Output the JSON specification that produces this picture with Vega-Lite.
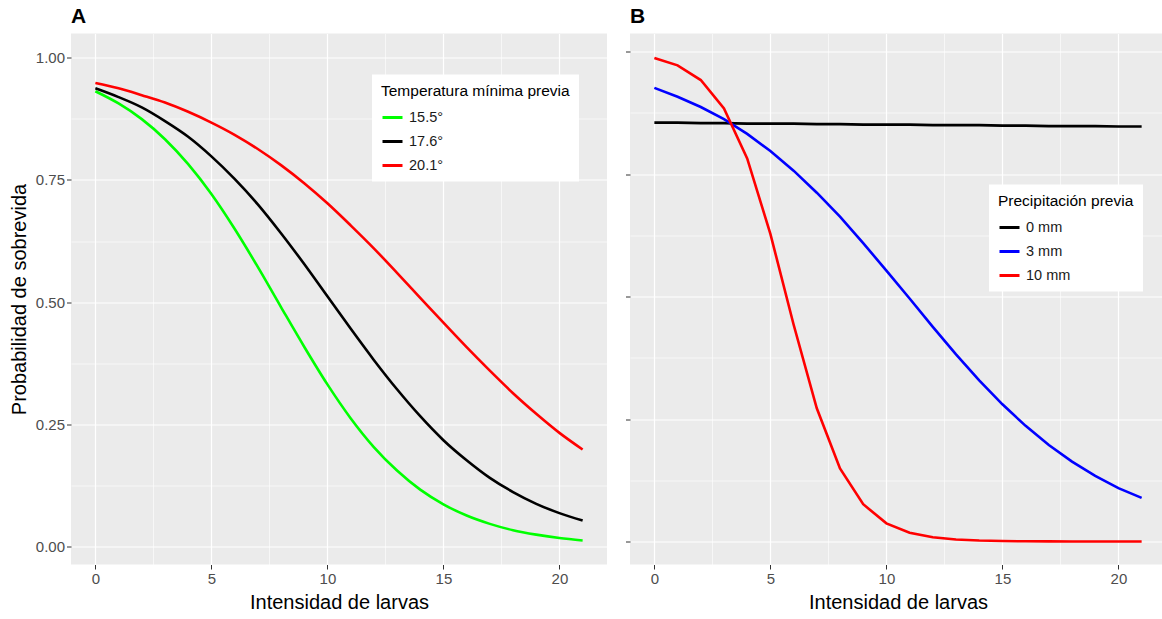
{
  "$schema": "https://vega.github.io/schema/vega-lite/v6.json",
  "background": "white",
  "padding": {"left": 9, "top": 5.5, "right": 0, "bottom": 5},
  "config": {
    "font": "Liberation Sans",
    "view": {"fill": "#EBEBEB", "stroke": null},
    "axis": {
      "labelFont": "Liberation Sans",
      "labelFontSize": 15,
      "labelColor": "#4D4D4D",
      "tickColor": "#333333",
      "tickSize": 4.5,
      "tickWidth": 1,
      "domain": false,
      "gridColor": "white",
      "gridWidth": 1.2,
      "titleFont": "Liberation Sans",
      "titleFontSize": 20,
      "titleFontWeight": "normal",
      "titleColor": "black",
      "labelPadding": 2,
      "titlePadding": 6
    },
    "legend": {
      "fillColor": "white",
      "padding": 9,
      "titleFont": "Liberation Sans",
      "titleFontSize": 15.5,
      "titleFontWeight": "normal",
      "titleColor": "black",
      "titleLimit": 400,
      "labelLimit": 300,
      "labelFont": "Liberation Sans",
      "labelFontSize": 14.5,
      "labelColor": "#1A1A1A",
      "symbolType": "stroke",
      "symbolStrokeWidth": 3,
      "symbolSize": 400,
      "rowPadding": 6,
      "titlePadding": 7,
      "labelOffset": 5
    },
    "title": {"font": "Liberation Sans", "fontSize": 21, "fontWeight": "bold", "color": "black", "anchor": "start", "frame": "group"}
  },
  "datasets": {
    "temp": [
      {"larvas":0,"prob":0.931,"grupo":"15.5°"},{"larvas":1,"prob":0.906,"grupo":"15.5°"},{"larvas":2,"prob":0.874,"grupo":"15.5°"},{"larvas":3,"prob":0.833,"grupo":"15.5°"},{"larvas":4,"prob":0.782,"grupo":"15.5°"},{"larvas":5,"prob":0.721,"grupo":"15.5°"},{"larvas":6,"prob":0.650,"grupo":"15.5°"},{"larvas":7,"prob":0.572,"grupo":"15.5°"},{"larvas":8,"prob":0.490,"grupo":"15.5°"},{"larvas":9,"prob":0.409,"grupo":"15.5°"},{"larvas":10,"prob":0.332,"grupo":"15.5°"},{"larvas":11,"prob":0.263,"grupo":"15.5°"},{"larvas":12,"prob":0.204,"grupo":"15.5°"},{"larvas":13,"prob":0.156,"grupo":"15.5°"},{"larvas":14,"prob":0.117,"grupo":"15.5°"},{"larvas":15,"prob":0.087,"grupo":"15.5°"},{"larvas":16,"prob":0.064,"grupo":"15.5°"},{"larvas":17,"prob":0.047,"grupo":"15.5°"},{"larvas":18,"prob":0.034,"grupo":"15.5°"},{"larvas":19,"prob":0.025,"grupo":"15.5°"},{"larvas":20,"prob":0.018,"grupo":"15.5°"},{"larvas":21,"prob":0.013,"grupo":"15.5°"},
      {"larvas":0,"prob":0.937,"grupo":"17.6°"},{"larvas":1,"prob":0.919,"grupo":"17.6°"},{"larvas":2,"prob":0.898,"grupo":"17.6°"},{"larvas":3,"prob":0.870,"grupo":"17.6°"},{"larvas":4,"prob":0.838,"grupo":"17.6°"},{"larvas":5,"prob":0.798,"grupo":"17.6°"},{"larvas":6,"prob":0.752,"grupo":"17.6°"},{"larvas":7,"prob":0.700,"grupo":"17.6°"},{"larvas":8,"prob":0.641,"grupo":"17.6°"},{"larvas":9,"prob":0.578,"grupo":"17.6°"},{"larvas":10,"prob":0.512,"grupo":"17.6°"},{"larvas":11,"prob":0.446,"grupo":"17.6°"},{"larvas":12,"prob":0.382,"grupo":"17.6°"},{"larvas":13,"prob":0.322,"grupo":"17.6°"},{"larvas":14,"prob":0.267,"grupo":"17.6°"},{"larvas":15,"prob":0.218,"grupo":"17.6°"},{"larvas":16,"prob":0.177,"grupo":"17.6°"},{"larvas":17,"prob":0.141,"grupo":"17.6°"},{"larvas":18,"prob":0.112,"grupo":"17.6°"},{"larvas":19,"prob":0.088,"grupo":"17.6°"},{"larvas":20,"prob":0.069,"grupo":"17.6°"},{"larvas":21,"prob":0.054,"grupo":"17.6°"},
      {"larvas":0,"prob":0.948,"grupo":"20.1°"},{"larvas":1,"prob":0.937,"grupo":"20.1°"},{"larvas":2,"prob":0.923,"grupo":"20.1°"},{"larvas":3,"prob":0.908,"grupo":"20.1°"},{"larvas":4,"prob":0.889,"grupo":"20.1°"},{"larvas":5,"prob":0.867,"grupo":"20.1°"},{"larvas":6,"prob":0.842,"grupo":"20.1°"},{"larvas":7,"prob":0.813,"grupo":"20.1°"},{"larvas":8,"prob":0.780,"grupo":"20.1°"},{"larvas":9,"prob":0.743,"grupo":"20.1°"},{"larvas":10,"prob":0.702,"grupo":"20.1°"},{"larvas":11,"prob":0.657,"grupo":"20.1°"},{"larvas":12,"prob":0.610,"grupo":"20.1°"},{"larvas":13,"prob":0.560,"grupo":"20.1°"},{"larvas":14,"prob":0.509,"grupo":"20.1°"},{"larvas":15,"prob":0.458,"grupo":"20.1°"},{"larvas":16,"prob":0.408,"grupo":"20.1°"},{"larvas":17,"prob":0.360,"grupo":"20.1°"},{"larvas":18,"prob":0.314,"grupo":"20.1°"},{"larvas":19,"prob":0.272,"grupo":"20.1°"},{"larvas":20,"prob":0.233,"grupo":"20.1°"},{"larvas":21,"prob":0.199,"grupo":"20.1°"}
    ],
    "precip": [
      {"larvas":0,"prob":0.855,"grupo":"0 mm"},{"larvas":1,"prob":0.855,"grupo":"0 mm"},{"larvas":2,"prob":0.854,"grupo":"0 mm"},{"larvas":3,"prob":0.854,"grupo":"0 mm"},{"larvas":4,"prob":0.853,"grupo":"0 mm"},{"larvas":5,"prob":0.853,"grupo":"0 mm"},{"larvas":6,"prob":0.853,"grupo":"0 mm"},{"larvas":7,"prob":0.852,"grupo":"0 mm"},{"larvas":8,"prob":0.852,"grupo":"0 mm"},{"larvas":9,"prob":0.851,"grupo":"0 mm"},{"larvas":10,"prob":0.851,"grupo":"0 mm"},{"larvas":11,"prob":0.851,"grupo":"0 mm"},{"larvas":12,"prob":0.850,"grupo":"0 mm"},{"larvas":13,"prob":0.850,"grupo":"0 mm"},{"larvas":14,"prob":0.850,"grupo":"0 mm"},{"larvas":15,"prob":0.849,"grupo":"0 mm"},{"larvas":16,"prob":0.849,"grupo":"0 mm"},{"larvas":17,"prob":0.848,"grupo":"0 mm"},{"larvas":18,"prob":0.848,"grupo":"0 mm"},{"larvas":19,"prob":0.848,"grupo":"0 mm"},{"larvas":20,"prob":0.847,"grupo":"0 mm"},{"larvas":21,"prob":0.847,"grupo":"0 mm"},
      {"larvas":0,"prob":0.926,"grupo":"3 mm"},{"larvas":1,"prob":0.908,"grupo":"3 mm"},{"larvas":2,"prob":0.887,"grupo":"3 mm"},{"larvas":3,"prob":0.862,"grupo":"3 mm"},{"larvas":4,"prob":0.832,"grupo":"3 mm"},{"larvas":5,"prob":0.797,"grupo":"3 mm"},{"larvas":6,"prob":0.757,"grupo":"3 mm"},{"larvas":7,"prob":0.712,"grupo":"3 mm"},{"larvas":8,"prob":0.663,"grupo":"3 mm"},{"larvas":9,"prob":0.609,"grupo":"3 mm"},{"larvas":10,"prob":0.553,"grupo":"3 mm"},{"larvas":11,"prob":0.496,"grupo":"3 mm"},{"larvas":12,"prob":0.438,"grupo":"3 mm"},{"larvas":13,"prob":0.382,"grupo":"3 mm"},{"larvas":14,"prob":0.329,"grupo":"3 mm"},{"larvas":15,"prob":0.280,"grupo":"3 mm"},{"larvas":16,"prob":0.236,"grupo":"3 mm"},{"larvas":17,"prob":0.197,"grupo":"3 mm"},{"larvas":18,"prob":0.163,"grupo":"3 mm"},{"larvas":19,"prob":0.134,"grupo":"3 mm"},{"larvas":20,"prob":0.109,"grupo":"3 mm"},{"larvas":21,"prob":0.089,"grupo":"3 mm"},
      {"larvas":0,"prob":0.987,"grupo":"10 mm"},{"larvas":1,"prob":0.972,"grupo":"10 mm"},{"larvas":2,"prob":0.942,"grupo":"10 mm"},{"larvas":3,"prob":0.884,"grupo":"10 mm"},{"larvas":4,"prob":0.782,"grupo":"10 mm"},{"larvas":5,"prob":0.628,"grupo":"10 mm"},{"larvas":6,"prob":0.443,"grupo":"10 mm"},{"larvas":7,"prob":0.272,"grupo":"10 mm"},{"larvas":8,"prob":0.149,"grupo":"10 mm"},{"larvas":9,"prob":0.076,"grupo":"10 mm"},{"larvas":10,"prob":0.037,"grupo":"10 mm"},{"larvas":11,"prob":0.018,"grupo":"10 mm"},{"larvas":12,"prob":0.0085,"grupo":"10 mm"},{"larvas":13,"prob":0.004,"grupo":"10 mm"},{"larvas":14,"prob":0.0019,"grupo":"10 mm"},{"larvas":15,"prob":0.0009,"grupo":"10 mm"},{"larvas":16,"prob":0.0004,"grupo":"10 mm"},{"larvas":17,"prob":0.0002,"grupo":"10 mm"},{"larvas":18,"prob":0.0001,"grupo":"10 mm"},{"larvas":19,"prob":0.00004,"grupo":"10 mm"},{"larvas":20,"prob":0.00002,"grupo":"10 mm"},{"larvas":21,"prob":0.00001,"grupo":"10 mm"}
    ]
  },
  "spacing": 23,
  "bounds": "flush",
  "resolve": {"scale": {"x": "independent", "y": "independent", "color": "independent"}},
  "hconcat": [
    {
      "width": 536,
      "height": 531,
      "title": {"text": "A", "offset": 7},
      "data": {"name": "temp"},
      "layer": [
        {
          "mark": {"type": "line", "opacity": 0},
          "encoding": {
            "x": {"field": "larvas", "type": "quantitative", "scale": {"domain": [-1.05, 22.05], "nice": false, "zero": false},
              "axis": {"orient": "top", "values": [2.5, 7.5, 12.5, 17.5], "labels": false, "ticks": false, "domain": false, "title": null, "grid": true, "gridWidth": 0.6}},
            "y": {"field": "prob", "type": "quantitative", "scale": {"domain": [-0.036, 1.049], "nice": false, "zero": false},
              "axis": {"orient": "right", "values": [0.125, 0.375, 0.625, 0.875], "labels": false, "ticks": false, "domain": false, "title": null, "grid": true, "gridWidth": 0.6}},
            "detail": {"field": "grupo", "type": "nominal"}
          }
        },
        {
          "mark": {"type": "line", "strokeWidth": 2.6, "interpolate": "monotone"},
          "encoding": {
            "x": {"field": "larvas", "type": "quantitative",
              "axis": {"orient": "bottom", "values": [0, 5, 10, 15, 20], "format": "d", "title": "Intensidad de larvas", "grid": true}},
            "y": {"field": "prob", "type": "quantitative",
              "axis": {"orient": "left", "values": [0, 0.25, 0.5, 0.75, 1], "format": ".2f", "title": "Probabilidad de sobrevida", "grid": true}},
            "color": {"field": "grupo", "type": "nominal",
              "scale": {"domain": ["15.5°", "17.6°", "20.1°"], "range": ["#00FF00", "#000000", "#FF0000"]},
              "legend": {"title": "Temperatura mínima previa", "orient": "none", "legendX": 301, "legendY": 41}}
          }
        }
      ],
      "resolve": {"axis": {"x": "independent", "y": "independent"}}
    },
    {
      "width": 536,
      "height": 531,
      "title": {"text": "B", "offset": 7},
      "data": {"name": "precip"},
      "layer": [
        {
          "mark": {"type": "line", "opacity": 0},
          "encoding": {
            "x": {"field": "larvas", "type": "quantitative", "scale": {"domain": [-1.05, 22.05], "nice": false, "zero": false},
              "axis": {"orient": "top", "values": [2.5, 7.5, 12.5, 17.5], "labels": false, "ticks": false, "domain": false, "title": null, "grid": true, "gridWidth": 0.6}},
            "y": {"field": "prob", "type": "quantitative", "scale": {"domain": [-0.047, 1.037], "nice": false, "zero": false},
              "axis": {"orient": "right", "values": [0.125, 0.375, 0.625, 0.875], "labels": false, "ticks": false, "domain": false, "title": null, "grid": true, "gridWidth": 0.6}},
            "detail": {"field": "grupo", "type": "nominal"}
          }
        },
        {
          "mark": {"type": "line", "strokeWidth": 2.6},
          "encoding": {
            "x": {"field": "larvas", "type": "quantitative",
              "axis": {"orient": "bottom", "values": [0, 5, 10, 15, 20], "format": "d", "title": "Intensidad de larvas", "grid": true}},
            "y": {"field": "prob", "type": "quantitative",
              "axis": {"orient": "left", "values": [0, 0.25, 0.5, 0.75, 1], "labels": false, "title": null, "grid": true}},
            "color": {"field": "grupo", "type": "nominal",
              "scale": {"domain": ["0 mm", "3 mm", "10 mm"], "range": ["#000000", "#0000FF", "#FF0000"]},
              "legend": {"title": "Precipitación previa", "orient": "none", "legendX": 359, "legendY": 151}}
          }
        }
      ],
      "resolve": {"axis": {"x": "independent", "y": "independent"}}
    }
  ]
}
